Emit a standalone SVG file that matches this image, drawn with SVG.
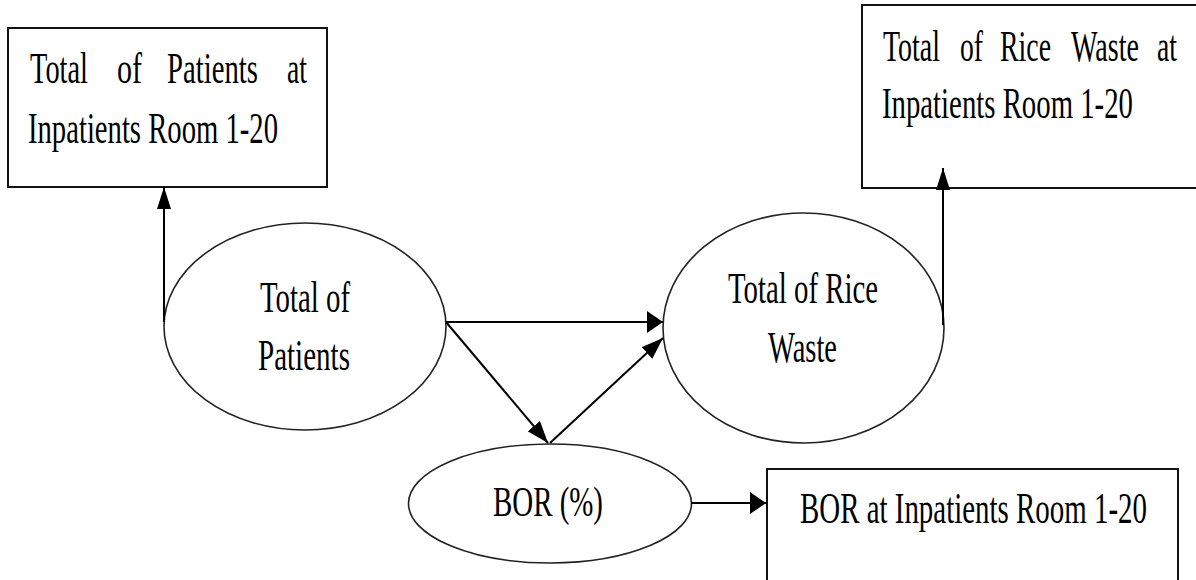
<svg xmlns="http://www.w3.org/2000/svg" width="1196" height="580" viewBox="0 0 1196 580">
<style>
.box{fill:#fff;stroke:#111;stroke-width:2}
.ell{fill:#fff;stroke:#222;stroke-width:1.6}
.t{font-family:"Liberation Serif","Times New Roman",serif;font-size:45px;fill:#000}
.c{stroke:#000;stroke-width:2;fill:none}
</style>
<defs>
<marker id="arrH" markerUnits="userSpaceOnUse" markerWidth="16" markerHeight="22" refX="16" refY="11" orient="auto"><path d="M0,0 L16,11 L0,22 z" fill="#000"/></marker>
<marker id="arrV" markerUnits="userSpaceOnUse" markerWidth="22" markerHeight="14" refX="22" refY="7" orient="auto"><path d="M0,0 L22,7 L0,14 z" fill="#000"/></marker>
<marker id="arrD" markerUnits="userSpaceOnUse" markerWidth="22" markerHeight="16" refX="22" refY="8" orient="auto"><path d="M0,0 L22,8 L0,16 z" fill="#000"/></marker>
</defs>
<rect width="1196" height="580" fill="#fff"/>
<g id="box-patients-room">
<rect class="box" x="8" y="28" width="319" height="159"/>
<g transform="scale(0.64,1)">
<text class="t" x="46.9" y="83" textLength="90.6" lengthAdjust="spacingAndGlyphs">Total</text>
<text class="t" x="182.8" y="83" textLength="39.1" lengthAdjust="spacingAndGlyphs">of</text>
<text class="t" x="260.9" y="83" textLength="142.2" lengthAdjust="spacingAndGlyphs">Patients</text>
<text class="t" x="448.4" y="83" textLength="31.3" lengthAdjust="spacingAndGlyphs">at</text>
<text class="t" x="43.75" y="143" textLength="390.6" lengthAdjust="spacingAndGlyphs">Inpatients Room 1-20</text>
</g>
</g>
<g id="box-rice-room">
<rect class="box" x="862" y="5" width="340" height="183"/>
<g transform="scale(0.64,1)">
<text class="t" x="1379.7" y="61" textLength="89.1" lengthAdjust="spacingAndGlyphs">Total</text>
<text class="t" x="1500" y="61" textLength="35.9" lengthAdjust="spacingAndGlyphs">of</text>
<text class="t" x="1562.5" y="61" textLength="79.7" lengthAdjust="spacingAndGlyphs">Rice</text>
<text class="t" x="1673.4" y="61" textLength="106.25" lengthAdjust="spacingAndGlyphs">Waste</text>
<text class="t" x="1807.8" y="61" textLength="31.25" lengthAdjust="spacingAndGlyphs">at</text>
<text class="t" x="1378.1" y="118" textLength="392.2" lengthAdjust="spacingAndGlyphs">Inpatients Room 1-20</text>
</g>
</g>
<g id="box-bor-room">
<rect class="box" x="767" y="469" width="411" height="130"/>
<g transform="scale(0.64,1)">
<text class="t" x="1250" y="523" textLength="542.2" lengthAdjust="spacingAndGlyphs">BOR at Inpatients Room 1-20</text>
</g>
</g>
<g id="node-patients">
<ellipse class="ell" cx="305" cy="326.5" rx="141" ry="103.5"/>
<g transform="scale(0.64,1)">
<text class="t" x="406.25" y="312" textLength="140.6" lengthAdjust="spacingAndGlyphs">Total of</text>
<text class="t" x="403.1" y="370" textLength="143.75" lengthAdjust="spacingAndGlyphs">Patients</text>
</g>
</g>
<g id="node-rice">
<ellipse class="ell" cx="803.5" cy="328" rx="140.5" ry="115"/>
<g transform="scale(0.64,1)">
<text class="t" x="1137.5" y="303" textLength="234.4" lengthAdjust="spacingAndGlyphs">Total of Rice</text>
<text class="t" x="1200" y="362" textLength="107.8" lengthAdjust="spacingAndGlyphs">Waste</text>
</g>
</g>
<g id="node-bor">
<ellipse class="ell" cx="550" cy="503.5" rx="141.5" ry="59.5"/>
<g transform="scale(0.64,1)">
<text class="t" x="770.3" y="516" textLength="171.9" lengthAdjust="spacingAndGlyphs" style="font-size:43px">BOR (%)</text>
</g>
</g>
<g id="connectors">
<line class="c" x1="164" y1="322" x2="164" y2="187" marker-end="url(#arrV)"/>
<line class="c" x1="943" y1="325" x2="943" y2="168" marker-end="url(#arrV)"/>
<line class="c" x1="446" y1="322" x2="663" y2="322" marker-end="url(#arrH)"/>
<line class="c" x1="446" y1="322" x2="548" y2="443" marker-end="url(#arrD)"/>
<line class="c" x1="550" y1="443" x2="663" y2="338" marker-end="url(#arrD)"/>
<line class="c" x1="691" y1="503" x2="766" y2="503" marker-end="url(#arrH)"/>
</g>
</svg>
